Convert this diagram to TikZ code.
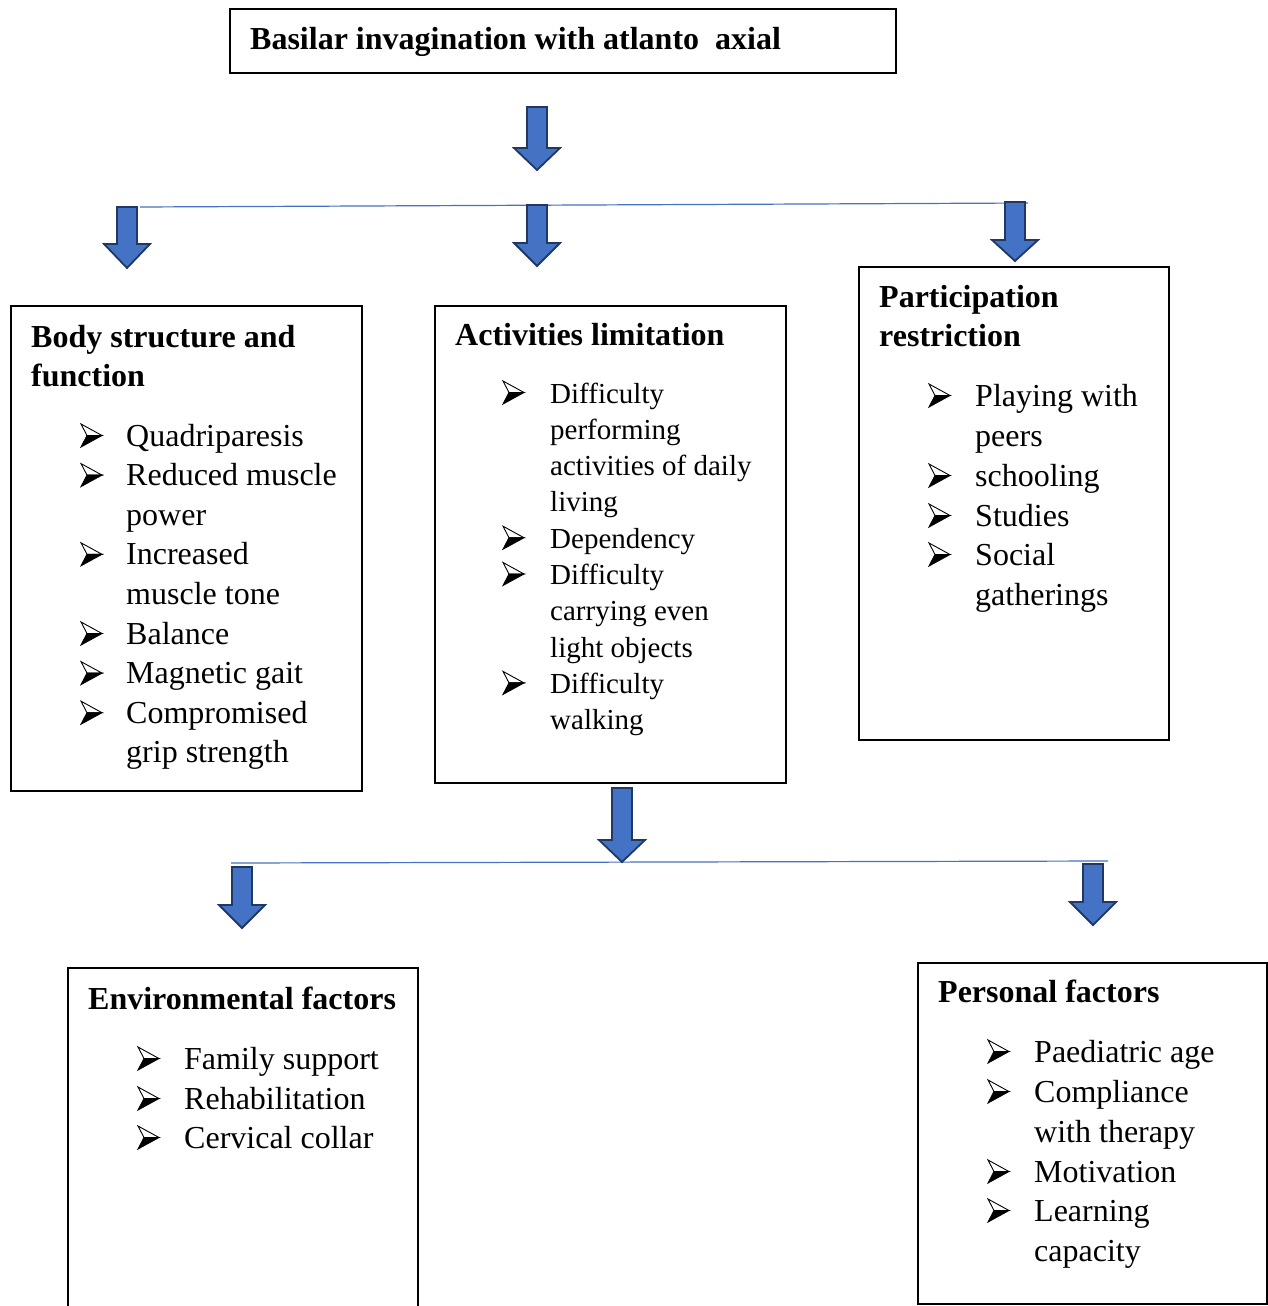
\documentclass[tikz,border=0pt]{standalone}
\usepackage{fontspec}
\setmainfont{Liberation Serif}
\definecolor{arrfill}{HTML}{4472C4}
\definecolor{arrline}{HTML}{1F3864}
\tikzset{
  box/.style={draw=black, line width=1.6pt, inner sep=0pt, anchor=north west},
  hline/.style={draw=arrfill, line width=1.2pt},
  blk/.style={fill=arrfill, draw=arrline, line width=1.8pt, line join=miter},
  ttl/.style={font=\fontsize{32}{38}\selectfont\bfseries, anchor=base west, inner sep=0pt},
  itm/.style={font=\fontsize{32}{38}\selectfont, anchor=base west, inner sep=0pt},
  itms/.style={font=\fontsize{29}{35}\selectfont, anchor=base west, inner sep=0pt},
  bul/.pic={
    \filldraw[fill=white, draw=black, line width=0.9pt, line join=miter] (0,-22) -- (21,-10.5) -- (6,-10.5) -- cycle;
    \filldraw[fill=black, draw=black, line width=0.9pt, line join=miter] (6,-10.5) -- (21,-10.5) -- (0,1) -- cycle;
  }
}
\newcommand\bkarrow[4]{%
  \draw[blk] (#1-10,#2) -- (#1+10,#2) -- (#1+10,#3) -- (#1+23,#3) -- (#1,#4) -- (#1-23,#3) -- (#1-10,#3) -- cycle;}
\begin{document}
\begin{tikzpicture}[x=1pt,y=-1pt]
\useasboundingbox (0,0) rectangle (1268,1306);
\fill[white] (0,0) rectangle (1268,1306);

% boxes
\node[box, minimum width=666, minimum height=64] (topbox) at (229,8) {};
\node[box, minimum width=351, minimum height=485] (bsbox) at (10,305) {};
\node[box, minimum width=351, minimum height=477] (acbox) at (434,305) {};
\node[box, minimum width=310, minimum height=473] (prbox) at (858,266) {};
\node[box, minimum width=349, minimum height=341] (pfbox) at (917,962) {};
\coordinate (envbl) at (68,1310);
\coordinate (envbr) at (418,1310);
\draw[draw=black, line width=1.6pt] (envbl) -- (68,968) -- (418,968) -- (envbr);

% horizontal connector lines
\coordinate (l1a) at (140,207);
\coordinate (l1b) at (1028,203);
\draw[hline] (l1a) -- (l1b);
\coordinate (l2a) at (231,863);
\coordinate (l2b) at (1108,861);
\draw[hline] (l2a) -- (l2b);

% block arrows
\bkarrow{537}{107}{148}{170}
\bkarrow{127}{207}{244}{268}
\bkarrow{537}{205}{243}{266}
\bkarrow{1015}{202}{240}{261}
\bkarrow{622}{788}{840}{862}
\bkarrow{242}{867}{905}{928}
\bkarrow{1093}{864}{902}{925}

% top title
\node[ttl] (toptxt) at (250,50) {Basilar invagination with atlanto\ \ axial};

% Body structure and function
\node[ttl] (bst1) at (31,347) {Body structure and};
\node[ttl] (bst2) at (31,386) {function};
\foreach \y/\t [count=\i] in {446/Quadriparesis, 485.6/Reduced muscle, 525.2/power, 564.8/Increased, 604.4/muscle tone, 644/Balance, 683.6/Magnetic gait, 723.2/Compromised, 762.8/grip strength}
  \node[itm] (bs\i) at (126,\y) {\t};
\foreach \y in {446, 485.6, 564.8, 644, 683.6, 723.2}
  \pic at (81,\y) {bul};

% Activities limitation
\node[ttl] (act) at (455,345) {Activities limitation};
\foreach \y/\t [count=\i] in {403/Difficulty, 439.3/performing, 475.6/activities of daily, 511.9/living, 548.2/Dependency, 584.5/Difficulty, 620.8/carrying even, 657.1/light objects, 693.4/Difficulty, 729.7/walking}
  \node[itms] (ac\i) at (550,\y) {\t};
\foreach \y in {403, 548.2, 584.5, 693.4}
  \pic at (503,\y) {bul};

% Participation restriction
\node[ttl] (prt1) at (879,307) {Participation};
\node[ttl] (prt2) at (879,346) {restriction};
\foreach \y/\t [count=\i] in {406/Playing with, 446/peers, 486/schooling, 526/Studies, 565/Social, 605/gatherings}
  \node[itm] (pr\i) at (975,\y) {\t};
\foreach \y in {406, 486, 526, 565}
  \pic at (929,\y) {bul};

% Environmental factors
\node[ttl] (envt) at (88,1009) {Environmental factors};
\foreach \y/\t [count=\i] in {1069/Family support, 1109/Rehabilitation, 1148/Cervical collar}
  \node[itm] (en\i) at (184,\y) {\t};
\foreach \y in {1069, 1109, 1148}
  \pic at (138,\y) {bul};

% Personal factors
\node[ttl] (pft) at (938,1002) {Personal factors};
\foreach \y/\t [count=\i] in {1062/Paediatric age, 1102/Compliance, 1142/with therapy, 1182/Motivation, 1221/Learning, 1261/capacity}
  \node[itm] (pf\i) at (1034,\y) {\t};
\foreach \y in {1062, 1102, 1182, 1221}
  \pic at (988,\y) {bul};
\end{tikzpicture}
\end{document}
